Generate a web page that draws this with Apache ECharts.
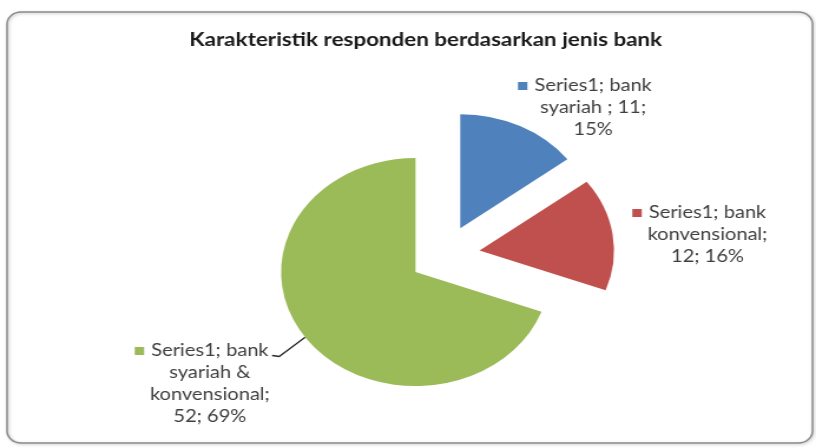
<!DOCTYPE html>
<html>
<head>
<meta charset="utf-8">
<script src="https://cdn.jsdelivr.net/npm/echarts@6/dist/echarts.min.js"></script>
<style>
  html, body { margin: 0; padding: 0; background: #fff; overflow: hidden; }
  #wrap { width: 816px; height: 448px; overflow: hidden; }
  /* the chart is laid out narrower and then widened, which gives the wide pie */
  #chart { width: 692px; height: 448px; transform: scaleX(1.1792); transform-origin: 0 0; }
</style>
</head>
<body>
<div id="wrap"><div id="chart"></div></div>
<script>
const chartTitle = 'Karakteristik responden berdasarkan jenis bank';
const seriesName = 'Series1';
const categories = ['bank syariah ', 'bank konvensional', 'bank syariah & konvensional'];
const values = [11, 12, 52];
const colors = ['#4F81BD', '#C0504D', '#9BBB59'];

// layout
const pieCenter = [377, 255];
const pieRadius = 114;
const explode = 30;
const labelAnchors = [[503, 108], [600, 235], [178, 384]];
const FONT = 'Lato, "Open Sans", sans-serif';
const LINE_H = 22;
const SQ = 8, GAP = 6, SPACER = SQ + GAP;

// greedy word wrap, the way the data labels break their text
function wrapWords(text, maxChars) {
  const words = text.split(' ').filter(w => w.length);
  const lines = [];
  let cur = '';
  for (const w of words) {
    const next = cur ? cur + ' ' + w : w;
    if (next.length > maxChars && cur) { lines.push(cur); cur = w; }
    else cur = next;
  }
  if (cur) lines.push(cur);
  return lines;
}

// every slice is pulled out along its own middle angle
const total = values.reduce((a, b) => a + b, 0);
let acc = 0;
const sliceCenters = values.map(v => {
  const mid = (acc + v / 2) / total * 2 * Math.PI;
  acc += v;
  return [pieCenter[0] + explode * Math.sin(mid), pieCenter[1] - explode * Math.cos(mid)];
});

const rich = {
  t: { fontFamily: FONT, fontSize: 17, lineHeight: LINE_H, color: '#3f3f3f', align: 'center' },
  g: { width: GAP, height: SQ },
  sp: { width: SPACER, height: SQ }
};
colors.forEach((c, i) => { rich['sq' + i] = { width: SQ, height: SQ, backgroundColor: c }; });

// one pie per slice: same angles, only its own slice painted
const series = categories.map((_, k) => ({
  type: 'pie',
  name: seriesName,
  center: sliceCenters[k],
  radius: pieRadius,
  startAngle: 90,
  clockwise: true,
  emphasis: { disabled: true },
  silent: true,
  label: {
    show: false,
    position: 'outside',
    align: 'center',
    overflow: 'none',
    rich: rich,
    formatter: p => {
      const txt = `${p.seriesName}; ${p.name}; ${p.value}; ${Math.round(p.percent)}%`;
      const lines = wrapWords(txt, 13);
      return lines.map((l, i) => i === 0
        ? `{sq${p.dataIndex}|}{g|}{t|${l}}{sp|}`
        : `{t|${l}}`).join('\n');
    }
  },
  labelLine: { show: false, lineStyle: { color: '#262626', width: 1.3 } },
  labelLayout: p => {
    const a = labelAnchors[p.dataIndex];
    const out = { x: a[0], y: a[1], align: 'center', verticalAlign: 'middle' };
    if (p.labelLinePoints && p.labelLinePoints.length) {
      const start = p.labelLinePoints[0];
      const endX = a[0] + p.labelRect.width / 2 - SPACER + 3;
      const endY = a[1] - p.labelRect.height / 2 + LINE_H / 2 + 2;
      out.labelLinePoints = [start, [endX + 6, endY + 1], [endX, endY]];
    }
    return out;
  },
  data: categories.map((name, i) => ({
    name: name,
    value: values[i],
    itemStyle: { color: i === k ? colors[i] : 'rgba(0,0,0,0)' },
    label: { show: i === k },
    labelLine: { show: i === k && i === 2 }
  }))
}));

const chart = echarts.init(document.getElementById('chart'));
chart.setOption({
  backgroundColor: '#ffffff',
  animation: false,
  title: {
    text: chartTitle, left: 356, textAlign: 'center', top: 25,
    textStyle: { fontFamily: FONT, fontSize: 19, fontWeight: 'bold', color: '#1a1a1a' }
  },
  graphic: [{
    type: 'rect',
    shape: { x: 6, y: 12, width: 683, height: 431, r: 12 },
    style: { fill: 'none', stroke: '#8a8a8a', lineWidth: 1.5,
             shadowBlur: 3, shadowColor: 'rgba(0,0,0,0.25)', shadowOffsetX: 1, shadowOffsetY: 1 },
    silent: true
  }],
  series: series
});
</script>
</body>
</html>
